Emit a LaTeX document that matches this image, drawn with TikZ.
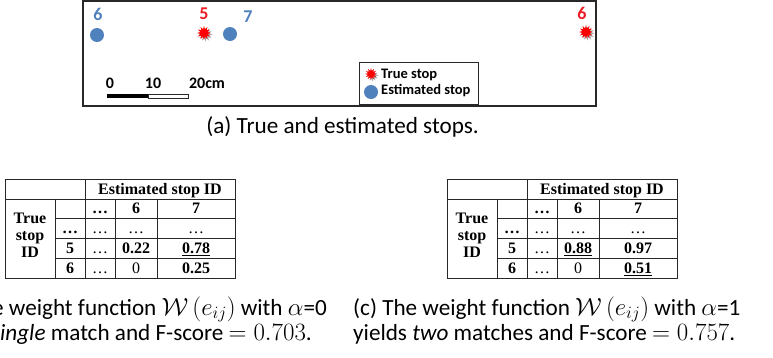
\documentclass[tikz,border=0pt]{standalone}
\usepackage{fontspec}
\usetikzlibrary{shapes.geometric}
\newfontfamily\calfont{Carlito}
\newfontfamily\tabfont{Liberation Serif}
\definecolor{stopblue}{RGB}{79,129,189}
\definecolor{stopred}{RGB}{255,0,0}
\definecolor{numred}{RGB}{237,28,36}
\definecolor{frame}{RGB}{40,40,40}
\newlength\capwd
\tikzset{
  panelbox/.style={draw=frame, line width=1.2pt, inner sep=0pt, outer sep=0pt},
  blnum/.style={text=stopblue, font=\calfont\bfseries\fontsize{18}{20}\selectfont, inner sep=0pt},
  rdnum/.style={text=numred, font=\calfont\bfseries\fontsize{18}{20}\selectfont, inner sep=0pt},
  estdot/.style={circle, fill=stopblue, minimum size=14pt, inner sep=0pt},
  truestar/.style={star, star points=12, star point ratio=1.9, minimum size=14pt, inner sep=0pt, fill=stopred},
  starshadow/.style={star, star points=12, star point ratio=1.9, minimum size=14pt, inner sep=0pt, fill=black, opacity=0.35},
  scalelbl/.style={font=\calfont\bfseries\fontsize{16}{19}\selectfont, inner sep=0pt, anchor=base},
  legtext/.style={font=\calfont\bfseries\fontsize{14.5}{17}\selectfont, inner sep=0pt, anchor=west},
  tbline/.style={draw=frame, line width=0.6pt},
  tbthick/.style={draw=frame, line width=1.3pt},
  tbtext/.style={inner sep=0pt, text height=10.5pt, text depth=0pt, font=\tabfont\fontsize{16}{18}\selectfont},
  captext/.style={inner sep=0pt, font=\calfont\fontsize{\capsz}{22}\selectfont},
}
\newcommand\wtable[6]{%
\begin{scope}[xshift=#2]
  \draw[tbline] (5,179) rectangle (235,278);
  \draw[tbline] (5,198.8) -- (235,198.8);
  \draw[tbline] (55,218.6) -- (235,218.6);
  \draw[tbthick] (55,238.4) -- (235,238.4);
  \draw[tbline] (55,258.2) -- (235,258.2);
  \draw[tbline] (85,179) -- (85,278);
  \draw[tbline] (55,198.8) -- (55,278);
  \draw[tbline] (115,198.8) -- (115,278);
  \draw[tbline] (157,198.8) -- (157,278);
  \node[tbtext] (#1-hdr) at (160,188.9) {\bfseries Estimated stop ID};
  \node[inner sep=0pt, align=center, font=\tabfont\fontsize{16}{17}\selectfont\bfseries] (#1-true) at (30,235) {True\\stop\\ID};
  \node[tbtext] (#1-c1) at (100,208.7) {\bfseries\ldots};
  \node[tbtext] (#1-d1) at (136,208.7) {\bfseries 6};
  \node[tbtext] (#1-e1) at (196,208.7) {\bfseries 7};
  \node[tbtext] (#1-b2) at (70,228.5) {\bfseries\ldots};
  \node[tbtext] (#1-c2) at (100,228.5) {\ldots};
  \node[tbtext] (#1-d2) at (136,228.5) {\ldots};
  \node[tbtext] (#1-e2) at (196,228.5) {\ldots};
  \node[tbtext] (#1-b3) at (70,248.3) {\bfseries 5};
  \node[tbtext] (#1-c3) at (100,248.3) {\ldots};
  \node[tbtext] (#1-d3) at (136,248.3) {#3};
  \node[tbtext] (#1-e3) at (196,248.3) {#4};
  \node[tbtext] (#1-b4) at (70,268.1) {\bfseries 6};
  \node[tbtext] (#1-c4) at (100,268.1) {\ldots};
  \node[tbtext] (#1-d4) at (136,268.1) {#5};
  \node[tbtext] (#1-e4) at (196,268.1) {#6};
\end{scope}}
\begin{document}
\settowidth\capwd{\calfont\fontsize{10}{12}\selectfont yields \textit{two} matches and F-score $= 0.757$.}
\begin{tikzpicture}[x=1pt,y=-1pt]
\pgfmathsetmacro\capsz{10*382/\capwd}
\useasboundingbox (0,0) rectangle (773,357);
% top panel
\node[panelbox, minimum width=513pt, minimum height=105pt] (panel) at (339.5,53.5) {};
\node[blnum] (lbl6e) at (98,14) {6};
\node[estdot] (est6) at (97,35) {};
\node[rdnum] (lbl5t) at (204,14) {5};
\node[starshadow] (sh5) at (205.5,34.5) {};
\node[truestar] (true5) at (204,33) {};
\node[blnum] (lbl7e) at (248,17) {7};
\node[estdot] (est7) at (230,34) {};
\node[rdnum] (lbl6t) at (582,13) {6};
\node[starshadow] (sh6) at (587.5,33.5) {};
\node[truestar] (true6) at (586,32) {};
% scale bar
\node[fill=black, minimum width=41pt, minimum height=4.5pt, inner sep=0pt, anchor=west] (barb) at (107,96) {};
\node[draw=frame, line width=0.4pt, minimum width=40pt, minimum height=4.5pt, inner sep=0pt, anchor=west] (barw) at (barb.east) {};
\node[scalelbl] (s0) at (110,88) {0};
\node[scalelbl] (s10) at (153,88) {10};
\node[scalelbl] (s20) at (207,88) {20cm};
% legend
\node[draw=frame, line width=0.8pt, minimum width=119pt, minimum height=42pt, inner sep=0pt] (legend) at (418.5,83) {};
\node[starshadow, minimum size=12pt] (legsh) at (372.5,75.5) {};
\node[truestar, minimum size=12pt] (legstar) at (371,74) {};
\node[legtext] (legt) at (381,75) {True stop};
\node[estdot] (legdot) at (371,92) {};
\node[legtext] (lege) at (381,91) {Estimated stop};
% caption a
\node[captext, anchor=base] (capa) at (342.5,133) {(a) True and estimated stops.};
% tables
\wtable{L}{0pt}{\bfseries 0.22}{\underline{\bfseries 0.78}}{0}{\bfseries 0.25}
\wtable{R}{442pt}{\underline{\bfseries 0.88}}{\bfseries 0.97}{0}{\underline{\bfseries 0.51}}
% captions b, c
\node[captext, anchor=base east] (capb1) at (327,315) {(b) The weight function $\mathcal{W}\,(e_{ij})$ with $\alpha$=0};
\node[captext, anchor=base east] (capb2) at (312,340) {yields a \textit{single} match and F-score $= 0.703$.};
\node[captext, anchor=base west] (capc1) at (353,315) {(c) The weight function $\mathcal{W}\,(e_{ij})$ with $\alpha$=1};
\node[captext, anchor=base west] (capc2) at (353,340) {yields \textit{two} matches and F-score $= 0.757$.};
\end{tikzpicture}
\end{document}
